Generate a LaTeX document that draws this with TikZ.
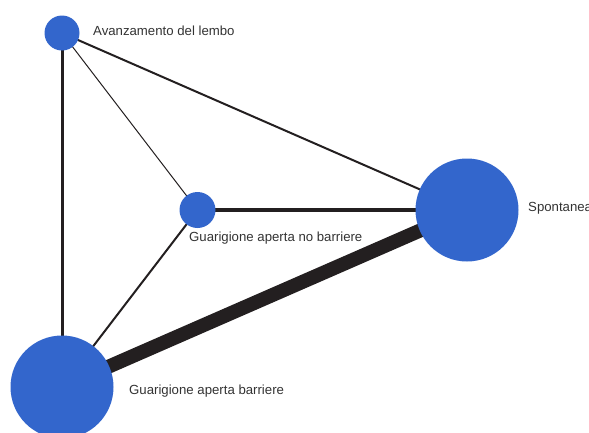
\documentclass[tikz,border=0pt]{standalone}
\usepackage{fontspec}
\setmainfont{Liberation Sans}
\usetikzlibrary{backgrounds}
\definecolor{nodeblue}{HTML}{3366CC}
\definecolor{edgedark}{HTML}{231F20}
\definecolor{textgrey}{HTML}{333333}
\tikzset{
  trt/.style={circle,fill=nodeblue,inner sep=0pt,minimum size=#1},
  lbl/.style={anchor=west,text=textgrey,font=\fontsize{13.2}{15}\selectfont,inner sep=0pt},
  edge/.style={draw=edgedark,line width=#1}
}
\begin{document}
\begin{tikzpicture}[x=1pt,y=-1pt]
  \useasboundingbox (0,0) rectangle (589,432);
  % Define nodes
  \node (avanzamento) [trt=35pt] at (62,33) {};
  \node (nobarriere) [trt=36pt] at (197.5,210) {};
  \node (spontanea) [trt=103pt] at (467,210) {};
  \node (barriere) [trt=103pt] at (62,387) {};

  \node (avanzamentolbl) [lbl] at (93,31) {Avanzamento del lembo};
  \node (nobarrierelbl) [lbl] at (189,238) {Guarigione aperta no barriere};
  \node (spontanealbl) [lbl] at (528,208) {Spontanea};
  \node (barrierelbl) [lbl] at (129,391) {Guarigione aperta barriere};

  % Draw edges
  \begin{scope}[on background layer]
    \draw [edge=3pt] (avanzamento.center) -- (barriere.center);
    \draw [edge=2pt] (avanzamento.center) -- (spontanea.center);
    \draw [edge=1pt] (avanzamento.center) -- (nobarriere.center);
    \draw [edge=3.5pt] (nobarriere.center) -- (spontanea.center);
    \draw [edge=2pt] (nobarriere.center) -- (barriere.center);
    \draw [edge=14pt] (barriere.center) -- (spontanea.center);
  \end{scope}
\end{tikzpicture}
\end{document}
